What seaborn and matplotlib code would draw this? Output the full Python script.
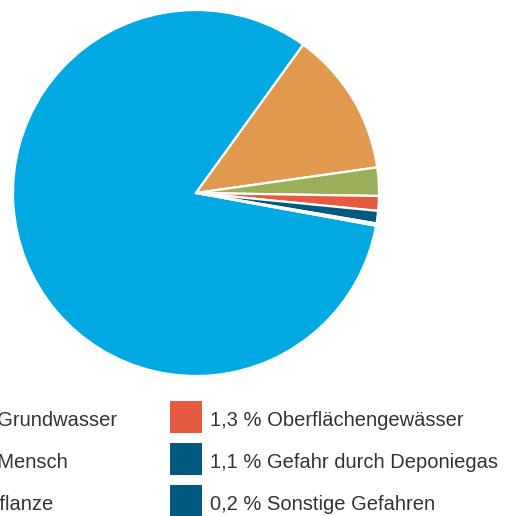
"""Kreisdiagramm: Gefährdungspotenzial von Altablagerungen."""

import matplotlib

matplotlib.use("Agg")
import matplotlib.pyplot as plt
import seaborn as sns
from matplotlib.patches import Rectangle

LABELS = [
    "Grundwasser",
    "Mensch",
    "Pflanze",
    "Oberflächengewässer",
    "Gefahr durch Deponiegas",
    "Sonstige Gefahren",
]
SHARES = [82.1, 12.8, 2.5, 1.3, 1.1, 0.2]
COLORS = ["#00A9E2", "#E0994E", "#9AAF58", "#E55A41", "#005A80", "#005A80"]

sns.set_theme(style="white")
plt.rcParams["font.family"] = ["Liberation Sans", "DejaVu Sans"]

W, H = 506, 516
fig = plt.figure(figsize=(W / 100, H / 100), dpi=100)
fig.patch.set_facecolor("white")

# Kreis: Mittelpunkt (196, 193) px, Radius 183 px
cx, cy, r = 196, 193, 183
ax = fig.add_axes([(cx - r) / W, (H - cy - r) / H, 2 * r / W, 2 * r / H])
ax.pie(
    SHARES,
    colors=sns.color_palette(COLORS),
    startangle=-10.3,
    counterclock=False,
    radius=1,
    wedgeprops=dict(edgecolor="white", linewidth=1.6),
)
ax.set_xlim(-1, 1)
ax.set_ylim(-1, 1)
ax.set_aspect("equal")
ax.axis("off")

# Legende: zwei Spalten zu je drei Zeilen, linke Spalte links angeschnitten
col_x = [-111, 170]
row_y = [417, 459, 501]
box = 32
for i, (lab, val, col) in enumerate(zip(LABELS, SHARES, COLORS)):
    x = col_x[i // 3]
    y = row_y[i % 3]
    fig.patches.append(
        Rectangle(
            (x / W, (H - y - box / 2) / H),
            box / W,
            box / H,
            transform=fig.transFigure,
            facecolor=col,
            edgecolor="none",
        )
    )
    txt = f"{val:.1f}".replace(".", ",") + f" % {lab}"
    fig.text(
        (x + box + 8) / W,
        (H - y - 1) / H,
        txt,
        ha="left",
        va="center_baseline",
        fontsize=14.5,
        color="#333333",
    )

fig.savefig("out.png", dpi=100)
